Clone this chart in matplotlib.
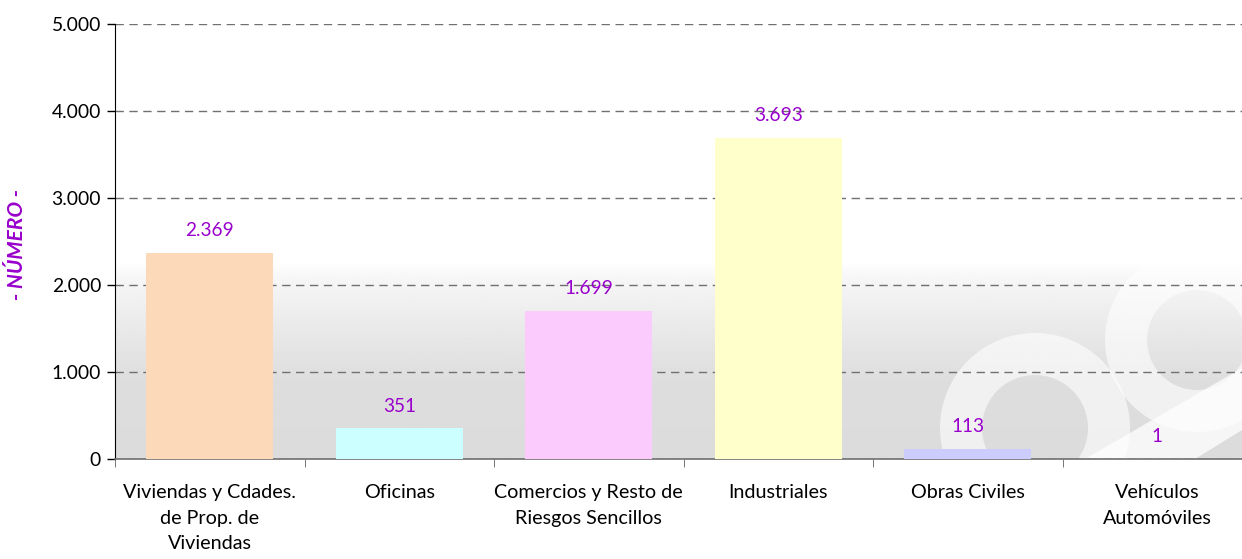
import numpy as np
import matplotlib
matplotlib.use('Agg')
import matplotlib.pyplot as plt
from matplotlib.ticker import FuncFormatter, FixedLocator
from matplotlib.patches import Annulus, Polygon
from matplotlib.transforms import Affine2D

categorias = ['Viviendas y Cdades.\nde Prop. de\nViviendas', 'Oficinas',
              'Comercios y Resto de\nRiesgos Sencillos', 'Industriales',
              'Obras Civiles', 'Vehículos\nAutomóviles']
valores = [2369, 351, 1699, 3693, 113, 1]
colores = ['#FCD9B8', '#CCFFFF', '#FBCBFD', '#FFFFCC', '#CCCCFF', '#3A7A3A']
yticks = [0, 1000, 2000, 3000, 4000, 5000]

W, H = 1242, 559

def miles(v, pos=None):
    return '{:,.0f}'.format(v).replace(',', '.')

plt.rcParams['font.family'] = ['Lato', 'DejaVu Sans']

fig = plt.figure(figsize=(W / 100, H / 100), dpi=100)
ax = fig.add_axes([115/W, 100/H, 1137/W, 435/H])

# pixeles de la imagen (origen arriba-izquierda) -> display
pix = Affine2D().scale(1, -1).translate(0, H)

# fondo degradado (gris abajo, blanco arriba)
filas = np.linspace(0, 1, 400)
g = np.interp(filas, [0, 0.17, 0.30, 0.42, 0.45, 1.0],
              [0.862, 0.865, 0.915, 0.968, 1.0, 1.0])
img = np.repeat(g[:, None], 2, axis=1)
ax.imshow(img, cmap='gray', vmin=0, vmax=1, origin='lower', aspect='auto',
          extent=[0, 1, 0, 1], transform=ax.transAxes, zorder=0)

# marca de agua (aprox.)
for (cx, cy, r, w) in [(1035, 428, 95, 42), (1197, 340, 92, 42)]:
    ax.add_patch(Annulus((cx, cy), r, w, color='white', alpha=0.6,
                         transform=pix, zorder=0.5, lw=0))
ax.add_patch(Polygon([(1085, 459), (1195, 459), (1242, 430), (1242, 368)],
                     closed=True, color='white', alpha=0.75, lw=0,
                     transform=pix, zorder=0.5))

x = np.arange(len(categorias))
ax.bar(x, valores, width=0.67, color=colores, zorder=3)

for xi, v in zip(x, valores):
    ax.annotate(miles(v), (xi, v), xytext=(0, 10), textcoords='offset points',
                ha='center', va='bottom', color='#9900CC', fontsize=13.7, zorder=5)

ax.set_xlim(-0.5, len(categorias) - 0.5)
ax.set_ylim(0, 5000)
ax.set_yticks(yticks)
ax.yaxis.set_major_formatter(FuncFormatter(miles))
ax.yaxis.grid(True, color='#707070', linestyle=(0, (6, 4)), linewidth=1, zorder=1)
ax.set_axisbelow(True)

ax.set_xticks(x)
ax.set_xticklabels(categorias, fontsize=14.2, linespacing=1.62)
ax.xaxis.set_minor_locator(FixedLocator(np.arange(-0.5, len(categorias), 1)))
ax.tick_params(axis='x', which='major', length=0, pad=18)
ax.tick_params(axis='x', which='minor', length=6, color='#606060', direction='out')
ax.tick_params(axis='y', length=6, width=1, labelsize=13.9, pad=4)

for s in ['top', 'right']:
    ax.spines[s].set_visible(False)
ax.spines['left'].set_color('black')
ax.spines['bottom'].set_color('#707070')
ax.spines['bottom'].set_linewidth(1.2)

fig.text(17/W, 1 - 244/H, '- NÚMERO -', rotation=90, ha='center', va='center',
         color='#9900CC', fontsize=15, fontweight='bold', fontstyle='italic')

fig.savefig('out.png', dpi=100)
